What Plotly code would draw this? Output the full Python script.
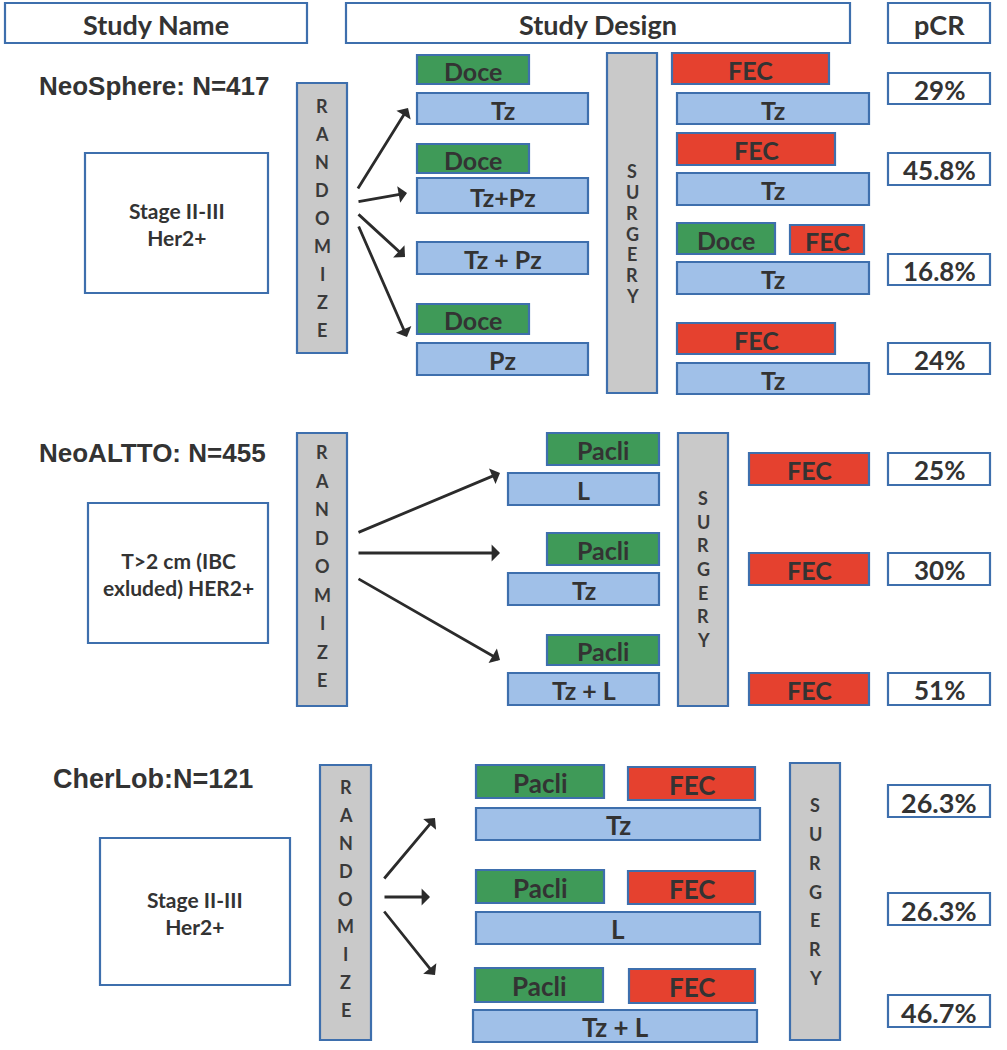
import plotly.graph_objects as go

# ---------------- data (text content) ----------------
headers = ["Study Name", "Study Design", "pCR"]
study_titles = ["NeoSphere: N=417", "NeoALTTO: N=455", "CherLob:N=121"]
populations = ["Stage II-III<br>Her2+", "T>2 cm (IBC<br>exluded) HER2+", "Stage II-III<br>Her2+"]
pcr_neosphere = ["29%", "45.8%", "16.8%", "24%"]
pcr_neoaltto = ["25%", "30%", "51%"]
pcr_cherlob = ["26.3%", "26.3%", "46.7%"]
neosphere_pre = ["Doce", "Tz", "Doce", "Tz+Pz", "Tz + Pz", "Doce", "Pz"]
neosphere_post = ["FEC", "Tz", "FEC", "Tz", "Doce", "FEC", "Tz", "FEC", "Tz"]
neoaltto_pre = ["Pacli", "L", "Pacli", "Tz", "Pacli", "Tz + L"]
neoaltto_post = ["FEC", "FEC", "FEC"]
cherlob_arms = ["Pacli", "FEC", "Tz", "Pacli", "FEC", "L", "Pacli", "FEC", "Tz + L"]
randomize_word = "RANDOMIZE"
surgery_word = "SURGERY"

# ---------------- layout geometry ----------------
GREEN = "#3f9a58"
RED = "#e5412f"
BLUE = "#a0c0e8"
GRAY = "#c9c9c9"
EDGE = "#3e6fad"
TXT = "#333333"
FONT = "Lato"
BOXSIZE = 25

kind_color = {"Doce": GREEN, "Pacli": GREEN, "FEC": RED}

def col(label):
    return kind_color.get(label, BLUE)

shapes = []
annots = []

def box(x0, y0, x1, y1, fill, text=None, size=BOXSIZE, lw=2.2):
    shapes.append(dict(type="rect", xref="x", yref="y", x0=x0, x1=x1, y0=y0, y1=y1,
                       fillcolor=fill, line=dict(color=EDGE, width=lw), layer="below"))
    if text is not None:
        annots.append(dict(x=(x0 + x1) / 2, y=(y0 + y1) / 2 + 1, xref="x", yref="y", text=f"<b>{text}</b>",
                           showarrow=False, font=dict(family=FONT, size=size, color=TXT)))

def label(x, y, text, size=26, family="Liberation Sans"):
    annots.append(dict(x=x, y=y, xref="x", yref="y", text=f"<b>{text}</b>", showarrow=False,
                       font=dict(family=family, size=size, color=TXT)))

def vbar(x0, y0, x1, y1, word, first, last):
    box(x0, y0, x1, y1, GRAY)
    n = len(word)
    for i, ch in enumerate(word):
        y = first + (last - first) * i / (n - 1)
        annots.append(dict(x=(x0 + x1) / 2, y=y, xref="x", yref="y", text=f"<b>{ch}</b>",
                           showarrow=False, font=dict(family=FONT, size=18, color="#3a3a3a")))

def arrow(xs, ys, xe, ye):
    annots.append(dict(x=xe, y=ye, ax=xs, ay=ys, xref="x", yref="y", axref="x", ayref="y",
                       text="", showarrow=True, arrowhead=1, arrowsize=1.0, arrowwidth=2.8,
                       arrowcolor="#2b2b2b", standoff=0))

# headers
hdr_geo = [(5, 307), (346, 850), (888, 990)]
for (x0, x1), h in zip(hdr_geo, headers):
    box(x0, 3, x1, 43, "white", h, size=27)

# ---- NeoSphere ----
label(154, 86, study_titles[0])
box(85, 153, 268, 293, "white", populations[0], size=21)
vbar(297, 83, 347, 353, randomize_word, 106, 330)
for (xs, ys), (xe, ye) in zip([(357, 190), (357, 202), (357, 213), (358, 225)],
                              [(408, 108), (407, 193), (405, 257), (407, 337)]):
    arrow(xs, ys, xe, ye)
pre_geo = [(417, 55, 529, 84), (417, 93, 588, 124), (417, 144, 529, 173), (417, 178, 588, 213),
           (417, 242, 588, 274), (417, 304, 529, 334), (417, 343, 588, 375)]
for (x0, y0, x1, y1), t in zip(pre_geo, neosphere_pre):
    box(x0, y0, x1, y1, col(t), t)
vbar(607, 53, 657, 393, surgery_word, 171, 296)
post_geo = [(672, 53, 829, 84), (677, 93, 869, 124), (677, 133, 835, 165), (677, 173, 869, 205),
            (677, 223, 775, 254), (790, 225, 864, 254), (677, 262, 869, 294), (677, 323, 835, 354),
            (677, 363, 869, 394)]
for (x0, y0, x1, y1), t in zip(post_geo, neosphere_post):
    box(x0, y0, x1, y1, col(t), t)
for (y0, y1), t in zip([(73, 104), (153, 185), (254, 285), (343, 374)], pcr_neosphere):
    box(888, y0, 990, y1, "white", t, size=26)

# ---- NeoALTTO ----
label(152, 453, study_titles[1])
box(88, 503, 268, 643, "white", populations[1], size=21)
vbar(297, 433, 347, 706, randomize_word, 452, 680)
for (xs, ys), (xe, ye) in zip([(357, 533), (357, 553), (357, 578)],
                              [(500, 473), (500, 553), (500, 660)]):
    arrow(xs, ys, xe, ye)
pre2_geo = [(547, 433, 659, 465), (508, 473, 659, 505), (547, 533, 659, 565), (508, 573, 659, 605),
            (547, 635, 659, 665), (508, 673, 659, 705)]
for (x0, y0, x1, y1), t in zip(pre2_geo, neoaltto_pre):
    box(x0, y0, x1, y1, col(t), t)
vbar(678, 433, 728, 706, surgery_word, 498, 640)
for (y0, y1), t in zip([(453, 485), (553, 585), (673, 705)], neoaltto_post):
    box(749, y0, 869, y1, col(t), t)
for (y0, y1), t in zip([(453, 485), (553, 585), (673, 705)], pcr_neoaltto):
    box(888, y0, 990, y1, "white", t, size=26)

# ---- CherLob ----
label(153, 779, study_titles[2], size=27)
box(100, 838, 290, 985, "white", populations[2], size=21)
vbar(320, 765, 371, 1040, randomize_word, 787, 1010)
for (xs, ys), (xe, ye) in zip([(383, 880), (383, 897), (383, 910)],
                              [(435, 818), (430, 897), (435, 975)]):
    arrow(xs, ys, xe, ye)
cher_geo = [(476, 765, 604, 798), (628, 767, 755, 800), (476, 808, 760, 840),
            (476, 870, 604, 903), (628, 871, 755, 904), (476, 912, 760, 944),
            (475, 968, 603, 1002), (629, 969, 755, 1003), (473, 1010, 757, 1042)]
for (x0, y0, x1, y1), t in zip(cher_geo, cherlob_arms):
    box(x0, y0, x1, y1, col(t), t, size=26)
vbar(790, 763, 840, 1040, surgery_word, 805, 978)
for (y0, y1), t in zip([(785, 817), (893, 925), (995, 1027)], pcr_cherlob):
    box(888, y0, 990, y1, "white", t, size=27)

fig = go.Figure()
fig.add_trace(go.Scatter(x=[0, 1007], y=[0, 1050], mode="markers", marker=dict(opacity=0),
                         hoverinfo="skip", showlegend=False))
fig.update_layout(width=1007, height=1050, margin=dict(l=0, r=0, t=0, b=0),
                  paper_bgcolor="white", plot_bgcolor="white", shapes=shapes, annotations=annots,
                  showlegend=False)
fig.update_xaxes(range=[0, 1007], visible=False, fixedrange=True)
fig.update_yaxes(range=[1050, 0], visible=False, fixedrange=True)
fig.write_html("out.html", config={"displayModeBar": False},
               post_script="document.body.style.margin='0';document.body.style.overflow='hidden';")
